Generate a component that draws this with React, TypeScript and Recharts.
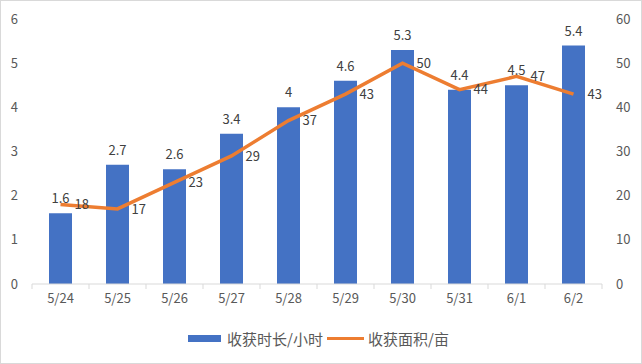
import React from 'react';
import { ComposedChart, Bar, Line, XAxis, YAxis, Legend, LabelList } from 'recharts';

const categories = ['5/24', '5/25', '5/26', '5/27', '5/28', '5/29', '5/30', '5/31', '6/1', '6/2'];
const hours = [1.6, 2.7, 2.6, 3.4, 4, 4.6, 5.3, 4.4, 4.5, 5.4];
const areas = [18, 17, 23, 29, 37, 43, 50, 44, 47, 43];
const leftTicks = [0, 1, 2, 3, 4, 5, 6];
const rightTicks = [0, 10, 20, 30, 40, 50, 60];

const data = categories.map((c, i) => ({ name: c, hours: hours[i], area: areas[i] }));

const FONT = '"Noto Sans CJK SC", "Noto Sans", sans-serif';
const AXIS_COLOR = '#D9D9D9';
const TEXT_COLOR = '#595959';
const LABEL_COLOR = '#404040';

const CategoryTick = (props: any) => {
  const { x, y, payload, index, width, visibleTicksCount } = props;
  const bw = width / visibleTicksCount;
  const top = y - 8;
  return (
    <g>
      <line x1={x - bw / 2} y1={top} x2={x - bw / 2} y2={top + 5} stroke={AXIS_COLOR} />
      {index === visibleTicksCount - 1 && (
        <line x1={x + bw / 2} y1={top} x2={x + bw / 2} y2={top + 5} stroke={AXIS_COLOR} />
      )}
      <text x={x} y={top + 19} textAnchor="middle" fill={TEXT_COLOR} fontSize={13} fontFamily={FONT}>
        {payload.value}
      </text>
    </g>
  );
};

const LegendContent = () => (
  <div
    style={{
      display: 'flex',
      justifyContent: 'center',
      alignItems: 'center',
      height: 49,
      fontFamily: FONT,
      fontSize: 15,
      color: TEXT_COLOR,
      paddingRight: 4,
    }}
  >
    <span style={{ display: 'inline-block', width: 33, height: 7, background: '#4472C4', marginRight: 6 }} />
    <span style={{ marginRight: 4 }}>收获时长/小时</span>
    <span style={{ display: 'inline-block', width: 37, height: 3, background: '#ED7D31', marginRight: 4 }} />
    <span>收获面积/亩</span>
  </div>
);

export default function App() {
  return (
    <div
      style={{
        position: 'absolute',
        left: 0,
        top: 0,
        width: 642,
        height: 364,
        border: '1px solid #D9D9D9',
        boxSizing: 'border-box',
        background: '#fff',
      }}
    >
      <ComposedChart
        width={640}
        height={362}
        data={data}
        margin={{ top: 18, right: 0, bottom: 0, left: -1 }}
        barCategoryGap="40%"
      >
        <XAxis
          dataKey="name"
          xAxisId={0}
          axisLine={{ stroke: AXIS_COLOR }}
          tickLine={false}
          tick={<CategoryTick />}
          height={30}
          interval={0}
        />
        <YAxis
          yAxisId="left"
          domain={[0, 6]}
          ticks={leftTicks}
          axisLine={false}
          tickLine={false}
          width={32}
          tickMargin={8}
          tick={{ fill: TEXT_COLOR, fontSize: 13, fontFamily: FONT }}
        />
        <YAxis
          yAxisId="right"
          orientation="right"
          domain={[0, 60]}
          ticks={rightTicks}
          axisLine={false}
          tickLine={false}
          width={39}
          tickMargin={8}
          tick={{ fill: TEXT_COLOR, fontSize: 13, fontFamily: FONT, textAnchor: 'start' }}
        />
        <Legend verticalAlign="bottom" height={49} content={<LegendContent />} />
        <Bar yAxisId="left" dataKey="hours" name="收获时长/小时" fill="#4472C4" barSize={23} isAnimationActive={false}>
          <LabelList dataKey="hours" position="top" offset={10} fill={LABEL_COLOR} fontSize={13} fontFamily={FONT} />
        </Bar>
        <Line
          yAxisId="right"
          dataKey="area"
          name="收获面积/亩"
          stroke="#ED7D31"
          strokeWidth={3.5}
          dot={false}
          type="linear"
          isAnimationActive={false}
        >
          <LabelList dataKey="area" position="right" offset={14} fill={LABEL_COLOR} fontSize={13} fontFamily={FONT} />
        </Line>
      </ComposedChart>
    </div>
  );
}
